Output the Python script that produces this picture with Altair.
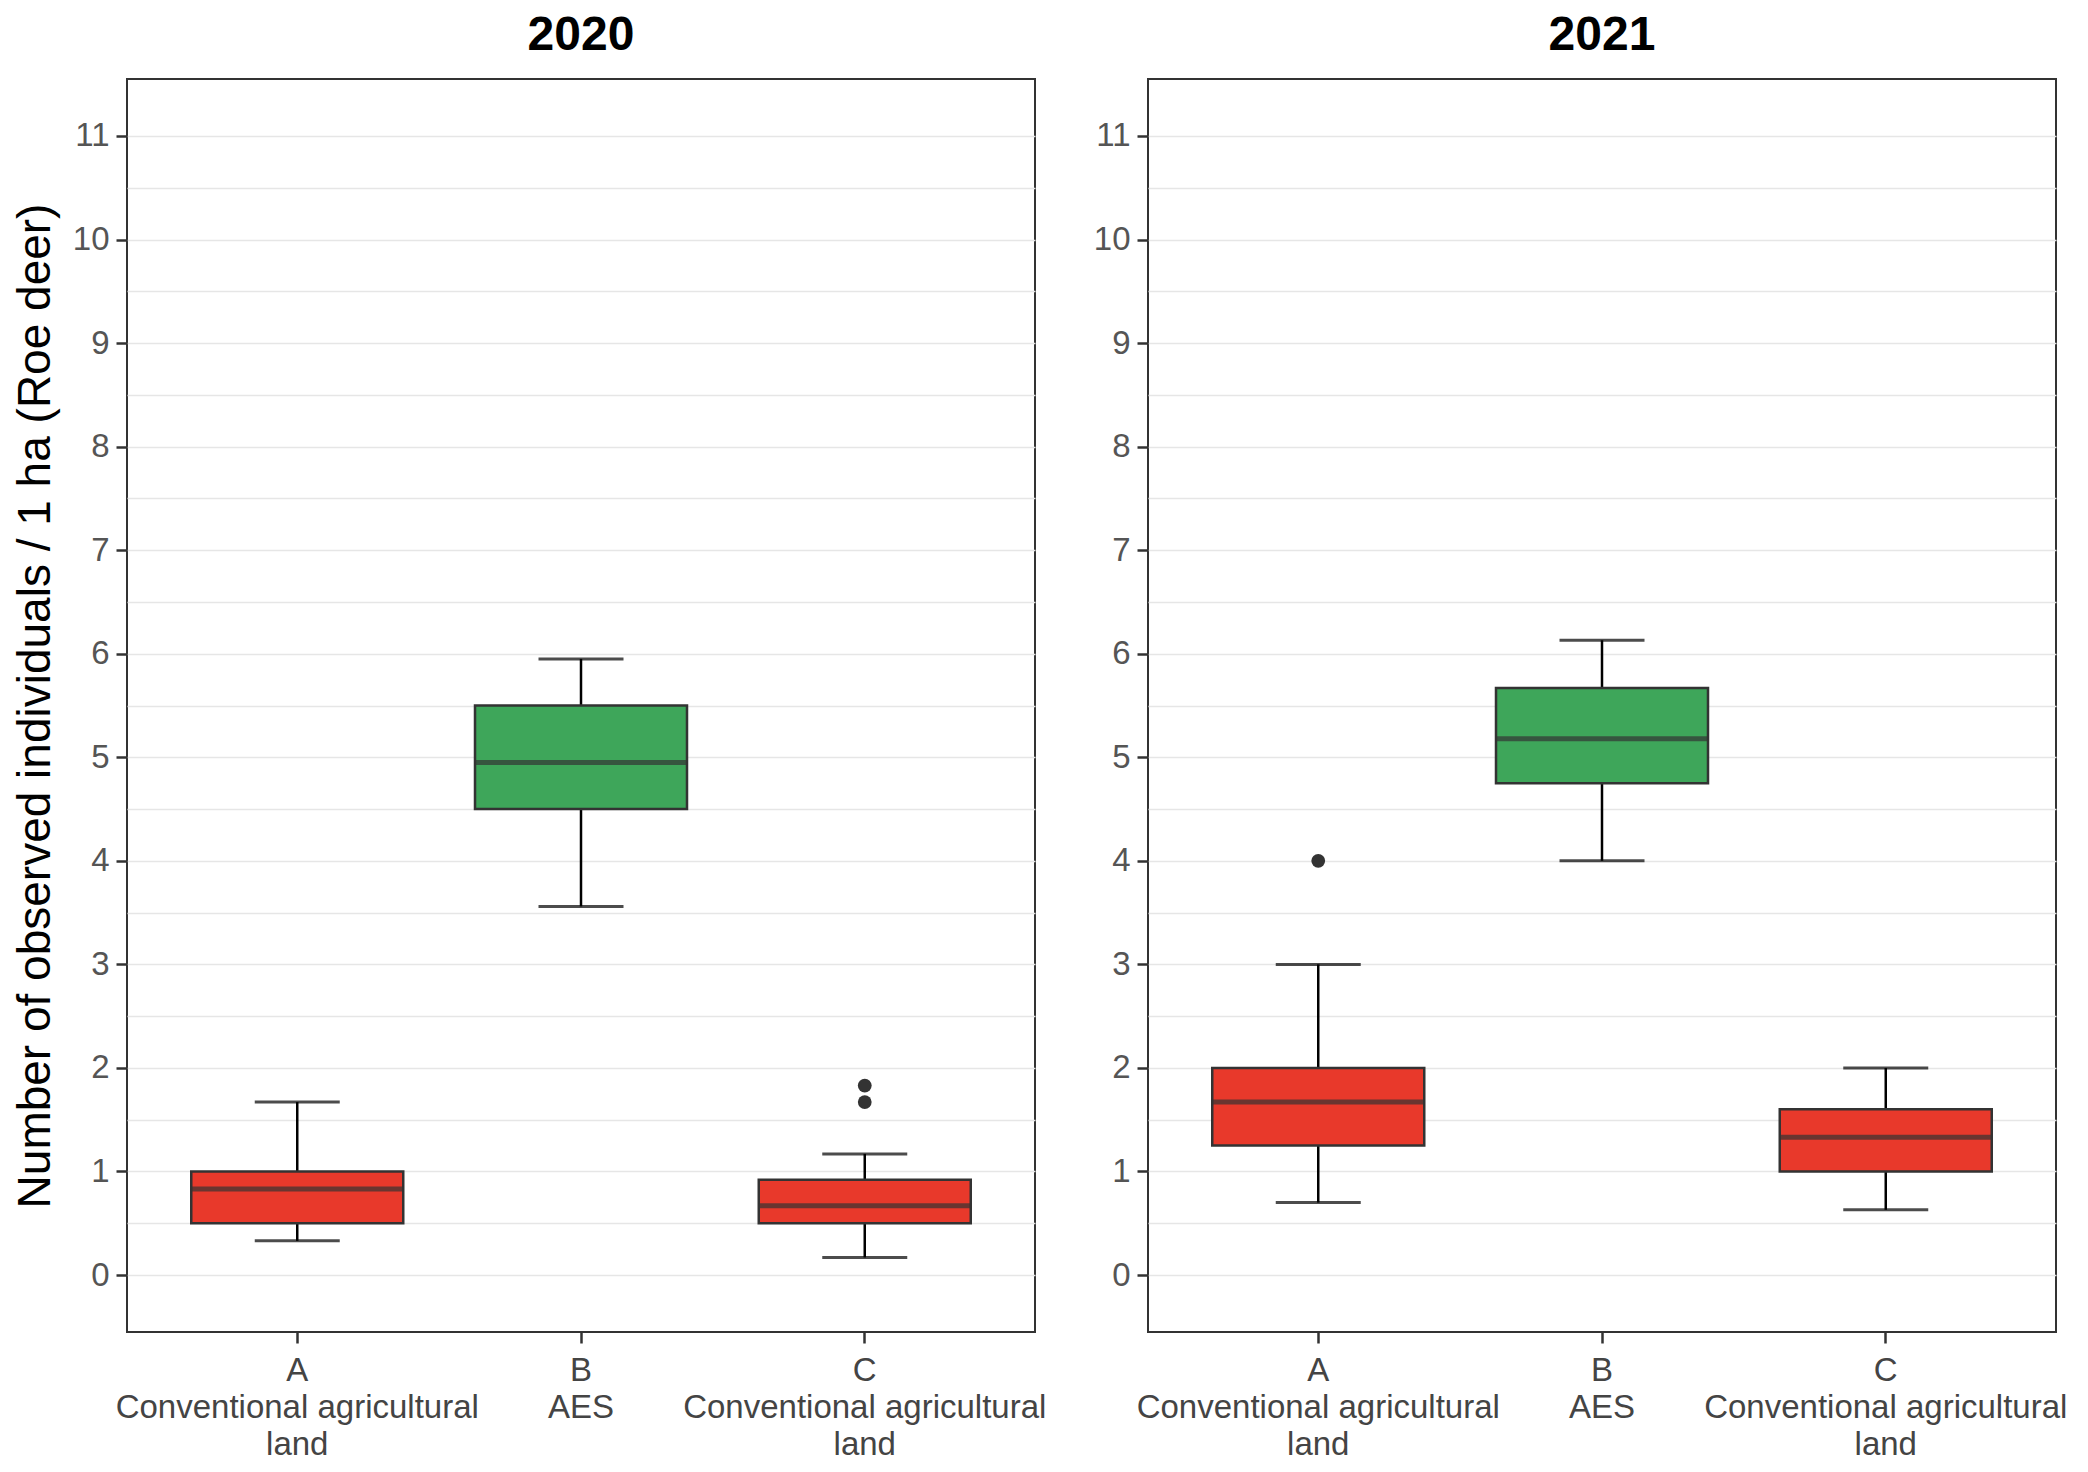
import altair as alt
import pandas as pd

# ---- data ----
categories = ["A|Conventional agricultural|land", "B|AES", "C|Conventional agricultural|land"]
land_type = ["conventional", "aes", "conventional"]
years = ["2020", "2021"]

lower_2020 = [0.33, 3.56, 0.17]
q1_2020 = [0.50, 4.50, 0.50]
median_2020 = [0.83, 4.95, 0.67]
q3_2020 = [1.00, 5.50, 0.92]
upper_2020 = [1.67, 5.95, 1.17]

lower_2021 = [0.70, 4.00, 0.63]
q1_2021 = [1.25, 4.75, 1.00]
median_2021 = [1.67, 5.18, 1.33]
q3_2021 = [2.00, 5.67, 1.60]
upper_2021 = [3.00, 6.13, 2.00]

outlier_year = ["2020", "2020", "2021"]
outlier_cat = [categories[2], categories[2], categories[0]]
outlier_val = [1.67, 1.83, 4.00]

y_title = "Number of observed individuals / 1 ha (Roe deer)"

stats = {
    "2020": (lower_2020, q1_2020, median_2020, q3_2020, upper_2020),
    "2021": (lower_2021, q1_2021, median_2021, q3_2021, upper_2021),
}

FONT = "Liberation Sans"
RED = "#E8392B"
GREEN = "#3EA65A"
DARK = "#333333"

grid_vals = [i / 2 for i in range(23)]
y_scale = alt.Scale(domain=[-0.55, 11.55], nice=False, zero=False)
x_scale = alt.Scale(domain=categories, paddingInner=0.25, paddingOuter=0.225)

W, H = 908, 1253


def panel(year, with_title):
    lo, q1, md, q3, up = stats[year]
    df = pd.DataFrame({"cat": categories, "type": land_type, "lower": lo,
                       "q1": q1, "median": md, "q3": q3, "upper": up})
    odf = pd.DataFrame({"cat": [c for c, y in zip(outlier_cat, outlier_year) if y == year],
                        "val": [v for v, y in zip(outlier_val, outlier_year) if y == year]})

    yaxis = alt.Axis(
        values=grid_vals,
        labelExpr="datum.value % 1 == 0 ? format(datum.value, 'd') : ''",
        grid=True, gridColor="#E6E6E6", gridWidth=1.6,
        domain=False,
        tickColor=DARK, tickWidth=2.5, tickSize=11,
        tickOpacity={"condition": {"test": "datum.value % 1 == 0", "value": 1}, "value": 0},
        labelFont=FONT, labelFontSize=33, labelColor="#555555", labelPadding=7,
        title=y_title if with_title else None,
        titleFont=FONT, titleFontSize=46, titleFontWeight="normal", titleColor="#000000",
        titlePadding=13,
    )
    xaxis = alt.Axis(
        labelExpr="split(datum.label, '|')",
        labelAngle=0, labelAlign="center", labelBaseline="top", labelLimit=0,
        labelFont=FONT, labelFontSize=33, labelColor="#444444", labelLineHeight=37,
        labelPadding=11, tickColor=DARK, tickWidth=2.5, tickSize=11,
        domain=False, grid=False, title=None,
    )
    x = alt.X("cat:N", scale=x_scale, sort=categories, axis=xaxis)

    base = alt.Chart(df)
    whisk = base.mark_rule(color="#000000", strokeWidth=2.5).encode(
        x=x, y=alt.Y("lower:Q", scale=y_scale, axis=yaxis), y2="upper:Q")
    cap_lo = base.mark_tick(color="#000000", size=85, thickness=3).encode(
        x=x, y=alt.Y("lower:Q", scale=y_scale))
    cap_up = base.mark_tick(color="#000000", size=85, thickness=3).encode(
        x=x, y=alt.Y("upper:Q", scale=y_scale))
    box = base.mark_bar(stroke=DARK, strokeWidth=2.5, size=212).encode(
        x=x, y=alt.Y("q1:Q", scale=y_scale), y2="q3:Q",
        color=alt.Color("type:N", scale=alt.Scale(domain=["conventional", "aes"],
                                                 range=[RED, GREEN]), legend=None))
    med = base.mark_tick(color=DARK, size=212, thickness=5).encode(
        x=x, y=alt.Y("median:Q", scale=y_scale))
    out = alt.Chart(odf).mark_circle(color=DARK, size=190, opacity=1).encode(
        x=alt.X("cat:N", scale=x_scale, sort=categories),
        y=alt.Y("val:Q", scale=y_scale))

    return alt.layer(whisk, cap_lo, cap_up, box, med, out).properties(
        width=W, height=H,
        title=alt.TitleParams(text=year, font=FONT, fontSize=48, fontWeight="bold",
                              color="#000000", anchor="middle", offset=19),
    )


chart = alt.hconcat(panel("2020", True), panel("2021", False), spacing=45).configure_view(
    stroke=DARK, strokeWidth=2
).properties(padding={"left": 3, "top": 3, "right": 5, "bottom": 0}, background="white")

chart.save("out.html", embed_options={"renderer": "svg", "actions": False})
